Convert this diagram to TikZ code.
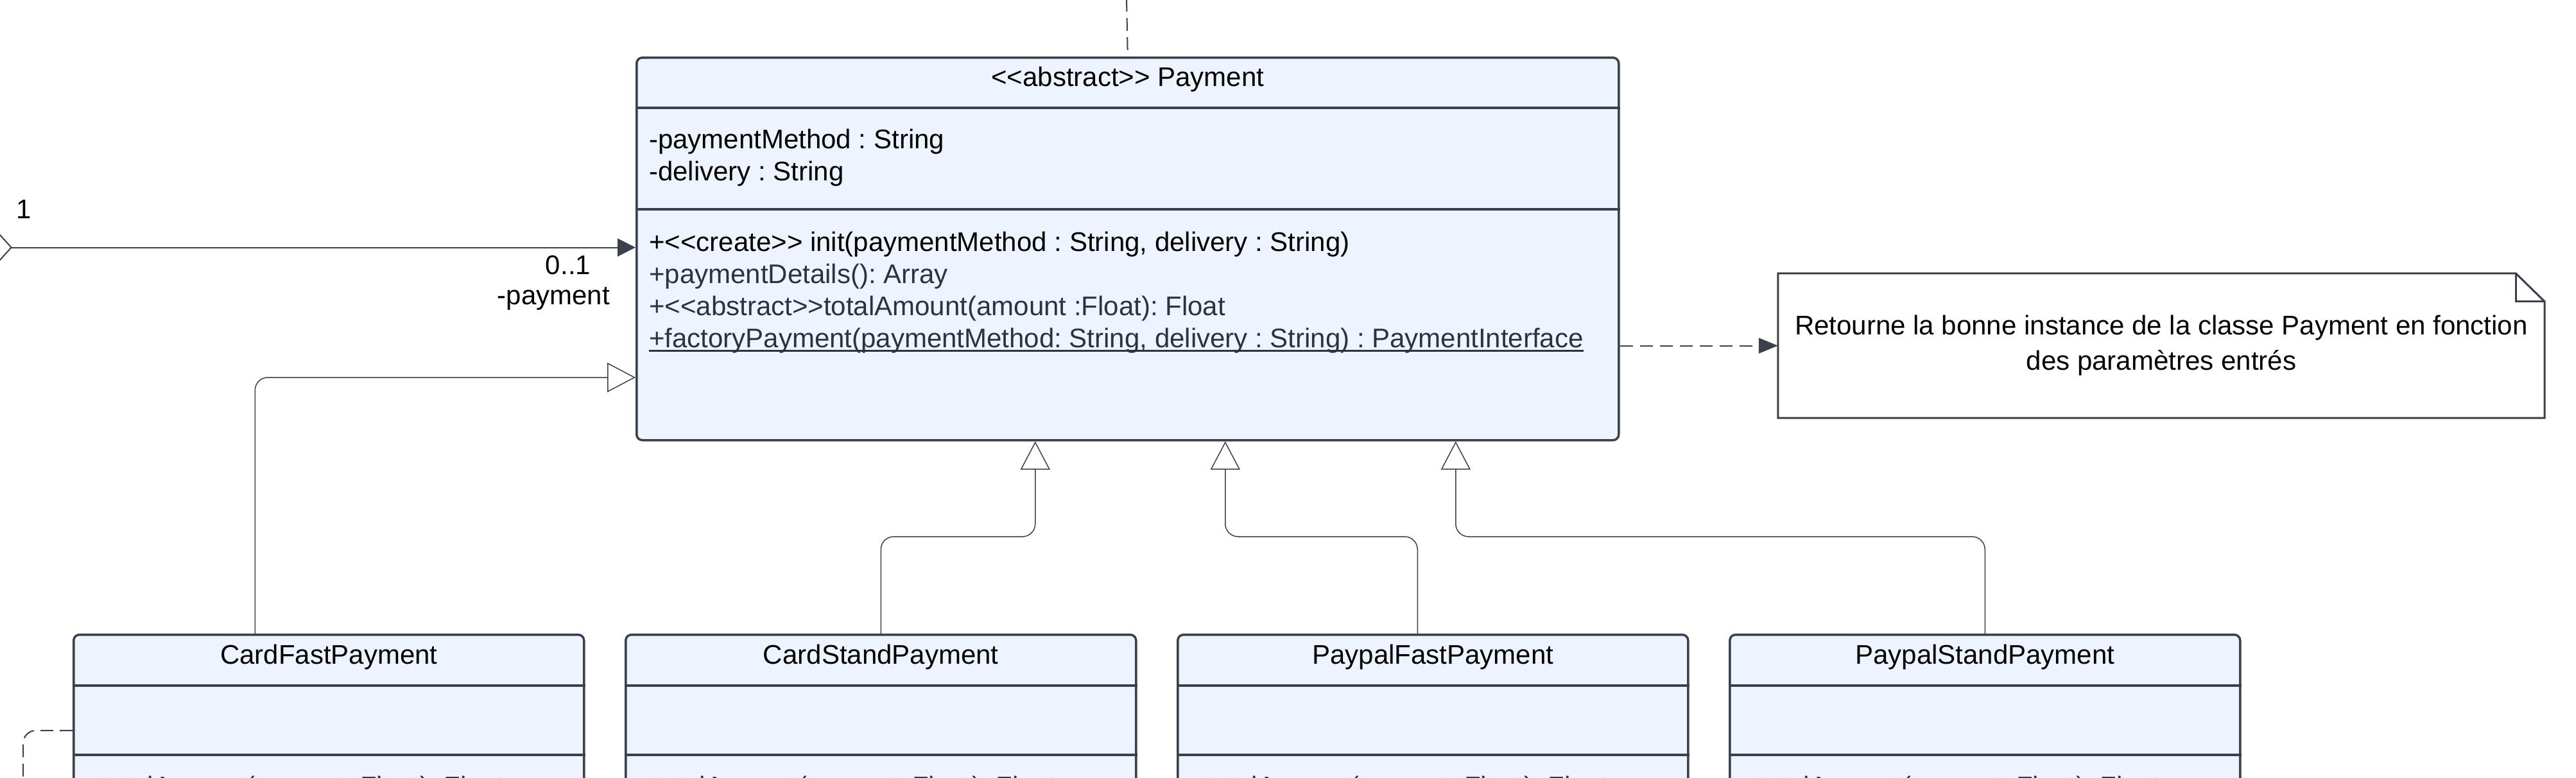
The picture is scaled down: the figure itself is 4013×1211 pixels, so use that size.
\documentclass[tikz,border=0pt]{standalone}
\usepackage{fontspec}
\newfontfamily\umlfont{Liberation Sans}
\usepackage{tikz}
\usetikzlibrary{arrows.meta}
\usetikzlibrary{positioning}

\definecolor{umlfill}{RGB}{237,244,255}
\definecolor{umlline}{RGB}{58,65,74}
\definecolor{umltext}{RGB}{45,50,60}

% underline for static members
\newcommand{\umlunderline}[1]{\setbox0\hbox{#1}\rlap{\rule[-6pt]{\wd0}{2.8pt}}\box0}
\frenchspacing

\begin{document}
\begin{tikzpicture}[x=1pt,y=-1pt,
	every node/.style={inner sep=0pt,font=\umlfont\fontsize{42}{50}\selectfont},
	classbox/.style={draw=umlline,fill=umlfill,line width=3.5pt,rounded corners=9pt,anchor=north west},
	divider/.style={draw=umlline,line width=3.5pt},
	members/.style={anchor=north west,align=left},
	inherit/.style={draw=umlline,line width=1.5pt,rounded corners=20pt,-{Triangle[open,length=44pt,width=46pt]}},
	assoc/.style={draw=umlline,line width=2pt,{Diamond[open,length=60pt,width=66pt]}-{Triangle[length=28pt,width=28pt]}},
	dep/.style={draw=umlline,line width=2pt,dash pattern=on 20pt off 10pt},
	notelink/.style={dep,dash pattern=on 20pt off 11pt,-{Triangle[length=30pt,width=24pt]}}]

	\path[use as bounding box,fill=white] (0,0) rectangle (4013,1211);

	% abstract class
	\node[classbox,minimum width=1530pt,minimum height=596pt] (P) at (990,88) {};
	\node (Pname) at ([yshift=-36pt]P.north) {<<abstract>> Payment};
	\draw[divider] ([yshift=-80pt]P.north west) -- ([yshift=-80pt]P.north east);
	\draw[divider] ([yshift=-238pt]P.north west) -- ([yshift=-238pt]P.north east);
	\node[members] (Pattr) at ([xshift=21pt,yshift=-113pt]P.north west) {
		-paymentMethod : String\\
		-delivery : String
	};
	\node[members] (Pops) at ([xshift=21pt,yshift=-273pt]P.north west) {
		+<<create>> init(paymentMethod : String, delivery : String)\\
		\textcolor{umltext}{+paymentDetails(): Array}\\
		\textcolor{umltext}{+<<abstract>>totalAmount(amount :Float): Float}\\
		\textcolor{umltext}{\umlunderline{+factoryPayment(paymentMethod: String, delivery : String) : PaymentInterface}}
	};

	% note
	\node[minimum width=1194pt,minimum height=225pt,align=center,font=\umlfont\fontsize{42}{55}\selectfont] (N) at (3367,538.5) {
		Retourne la bonne instance de la classe Payment en fonction\\
		des paramètres entrés
	};
	\draw[umlline,line width=3pt] (N.south west) -- (N.north west) -- ([xshift=-45pt]N.north east)
		-- ([yshift=-44pt]N.north east) -- (N.south east) -- cycle;
	\draw[umlline,line width=3pt] ([xshift=-45pt]N.north east) |- ([yshift=-44pt]N.north east);

	% subclasses
	\node[classbox,minimum width=795pt,minimum height=500pt] (C1) at (113,987) {};
	\node[classbox,minimum width=795pt,minimum height=500pt,right=61.5pt of C1] (C2) {};
	\node[classbox,minimum width=795pt,minimum height=500pt,right=61.5pt of C2] (C3) {};
	\node[classbox,minimum width=795pt,minimum height=500pt,right=61.5pt of C3] (C4) {};

	\node (C1name) at ([yshift=-37pt]C1.north) {CardFastPayment};
	\node (C2name) at ([yshift=-37pt]C2.north) {CardStandPayment};
	\node (C3name) at ([yshift=-37pt]C3.north) {PaypalFastPayment};
	\node (C4name) at ([yshift=-37pt]C4.north) {PaypalStandPayment};

	\draw[divider] ([yshift=-81pt]C1.north west) -- ([yshift=-81pt]C1.north east);
	\draw[divider] ([yshift=-189pt]C1.north west) -- ([yshift=-189pt]C1.north east);
	\draw[divider] ([yshift=-81pt]C2.north west) -- ([yshift=-81pt]C2.north east);
	\draw[divider] ([yshift=-189pt]C2.north west) -- ([yshift=-189pt]C2.north east);
	\draw[divider] ([yshift=-81pt]C3.north west) -- ([yshift=-81pt]C3.north east);
	\draw[divider] ([yshift=-189pt]C3.north west) -- ([yshift=-189pt]C3.north east);
	\draw[divider] ([yshift=-81pt]C4.north west) -- ([yshift=-81pt]C4.north east);
	\draw[divider] ([yshift=-189pt]C4.north west) -- ([yshift=-189pt]C4.north east);

	\node[anchor=base west,text=umltext] (C1ops) at ([xshift=22pt,yshift=-252pt]C1.north west) {+totalAmount(amount :Float): Float};
	\node[anchor=base west,text=umltext] (C2ops) at ([xshift=22pt,yshift=-252pt]C2.north west) {+totalAmount(amount :Float): Float};
	\node[anchor=base west,text=umltext] (C3ops) at ([xshift=22pt,yshift=-252pt]C3.north west) {+totalAmount(amount :Float): Float};
	\node[anchor=base west,text=umltext] (C4ops) at ([xshift=22pt,yshift=-252pt]C4.north west) {+totalAmount(amount :Float): Float};

	% connectors
	\coordinate (top) at (1755,-2);
	\draw[dep] (top) -- (P.north);

	\coordinate (A) at (-41,385.5);
	\draw[assoc] (A) -- (A -| P.west);
	\node (one) at (37,326) {1};
	\node (mult) at (885,413) {0..1};
	\node[anchor=east] (role) at (950,465) {-payment};

	\draw[notelink] (P.east |- N.west) -- (N.west);

	\draw[inherit] ([xshift=-115pt]C1.north) |- ([yshift=-500pt]P.north west);
	\draw[inherit] (C2.north) -- ++(0,-151) -| ([xshift=-144pt]P.south);
	\draw[inherit] ([xshift=-24pt]C3.north) -- ++(0,-151) -| ([xshift=152pt]P.south);
	\draw[inherit] (C4.north) -- ++(0,-151) -| ([xshift=511pt]P.south);

	\coordinate (D) at (36,1300);
	\draw[dep,rounded corners=20pt] ([yshift=-151pt]C1.north west) -| (D);
\end{tikzpicture}
\end{document}
